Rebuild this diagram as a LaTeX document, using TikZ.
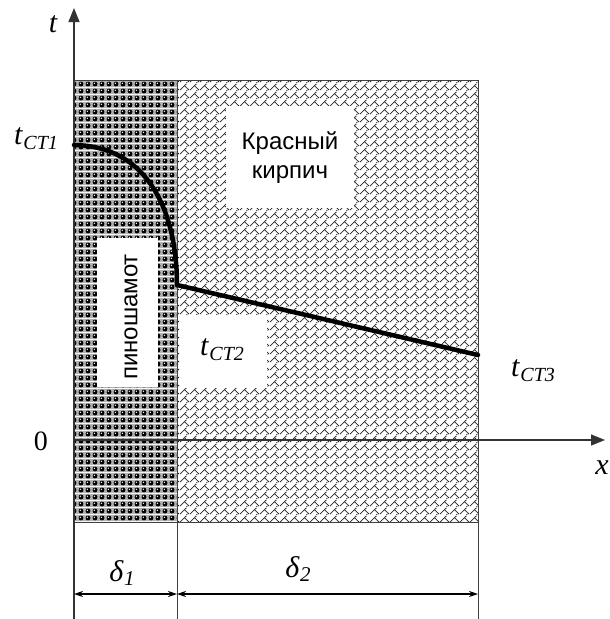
\documentclass[tikz,border=0pt]{standalone}
\usepackage{fontspec}
\setmainfont{Liberation Serif}
\newfontfamily\arialf{Liberation Sans}
\usetikzlibrary{patterns.meta,arrows.meta}
\tikzdeclarepattern{
  name=shamotdots,
  type=colored,
  bounding box={(0pt,0pt) and (6.5pt,6.5pt)},
  tile size={(6.5pt,6.5pt)},
  code={
    \fill[gray!60] (0pt,0pt) rectangle (6.5pt,6.5pt);
    \fill[black] (3.25pt,3.25pt) circle (2.6pt);
    \fill[white] (2.5pt,4pt) circle (0.8pt);
  }
}
\tikzdeclarepattern{
  name=brickzig,
  type=uncolored,
  bounding box={(0pt,0pt) and (10pt,8pt)},
  tile size={(10pt,8pt)},
  code={
    \draw[line width=0.8pt] (0pt,1pt) -- (5pt,6pt) -- (10pt,1pt);
    \draw[line width=0.8pt] (5pt,6pt) -- (7pt,8pt);
    \draw[line width=0.8pt] (7pt,0pt) -- (8pt,1pt);
  }
}
\tikzset{
  lbl/.style={font=\fontsize{30}{32}\selectfont\itshape, inner sep=0pt},
  sublbl/.style={font=\fontsize{30}{32}\selectfont, inner sep=0pt},
  numlbl/.style={font=\fontsize{28}{30}\selectfont, inner sep=0pt},
  rus/.style={font=\arialf\fontsize{24}{28}\selectfont, inner sep=0pt, align=center},
  whitebox/.style={fill=white, draw=none},
  axis/.style={line width=1.3pt, draw=black!80},
  border/.style={line width=0.9pt, draw=black!75},
  dim/.style={line width=1.2pt, {Stealth[length=9pt,width=6pt]}-{Stealth[length=9pt,width=6pt]}},
  curve/.style={line width=4.5pt, line cap=round}
}
\newcommand{\tsub}[1]{\textit{t}\kern0.5pt\raisebox{-0.35ex}{\fontsize{20}{22}\selectfont\textit{#1}}}
\newcommand{\dsub}[1]{\textit{δ}\kern0.5pt\raisebox{-0.35ex}{\fontsize{21}{22}\selectfont\textit{#1}}}
\begin{document}
\begin{tikzpicture}[x=1pt,y=-1pt]
\useasboundingbox (0,0) rectangle (610,619);
% layers
\fill[white] (74,80) rectangle (177,522);
\fill[pattern=shamotdots] (74,80) rectangle (177,522);
\fill[white] (177,80) rectangle (478,522);
\fill[pattern=brickzig, pattern color=black!85] (177,80) rectangle (478,522);
% white label boxes
\fill[whitebox] (97,238) rectangle (158,387);
\fill[whitebox] (226,106) rectangle (354,208);
\fill[whitebox] (180,315) rectangle (267,388);
% borders
\draw[border] (74,80) rectangle (177,522);
\draw[border] (177,80) rectangle (478,522);
% coordinates
\coordinate (tb) at (74,619);
\coordinate (tt) at (74,8);
\coordinate (xo) at (74,440);
\coordinate (xe) at (605,440);
\coordinate (db) at (177,522);
\coordinate (dbb) at (177,619);
\coordinate (eb) at (478,522);
\coordinate (ebb) at (478,619);
\coordinate (d0) at (74,594);
\coordinate (d1) at (177,594);
\coordinate (d2) at (478,594);
\coordinate (p1) at (74,145);
\coordinate (p2) at (177,285);
\coordinate (p3) at (478,355);
% axes
\draw[axis, -{Triangle[length=14pt,width=11pt]}] (tb) -- (tt);
\draw[axis, -{Triangle[length=14pt,width=11pt]}] (xo) -- (xe);
\draw[border] (db) -- (dbb);
\draw[border] (eb) -- (ebb);
% dimensions
\draw[dim] (d0) -- (d1);
\draw[dim] (d1) -- (d2);
% temperature profile
\draw[curve] (p1) .. controls (150,146) and (177,215) .. (p2);
\draw[curve] (p2) -- (p3);
% labels
\node[lbl] (tl) at (53,24) {t};
\node[lbl] (xl) at (602,468) {x};
\node[numlbl] (zero) at (41,441) {0};
\node[sublbl] (tc1) at (36,139) {\tsub{CT1}};
\node[sublbl] (tc2) at (222,350) {\tsub{CT2}};
\node[sublbl] (tc3) at (533,371) {\tsub{CT3}};
\node[sublbl] (del1) at (122,573) {\dsub{1}};
\node[sublbl] (del2) at (298,569) {\dsub{2}};
\node[rus] (kk) at (290,158) {Красный\\[1pt]кирпич};
\node[rus, rotate=90] (ps) at (131,317) {пиношамот};
\end{tikzpicture}
\end{document}
